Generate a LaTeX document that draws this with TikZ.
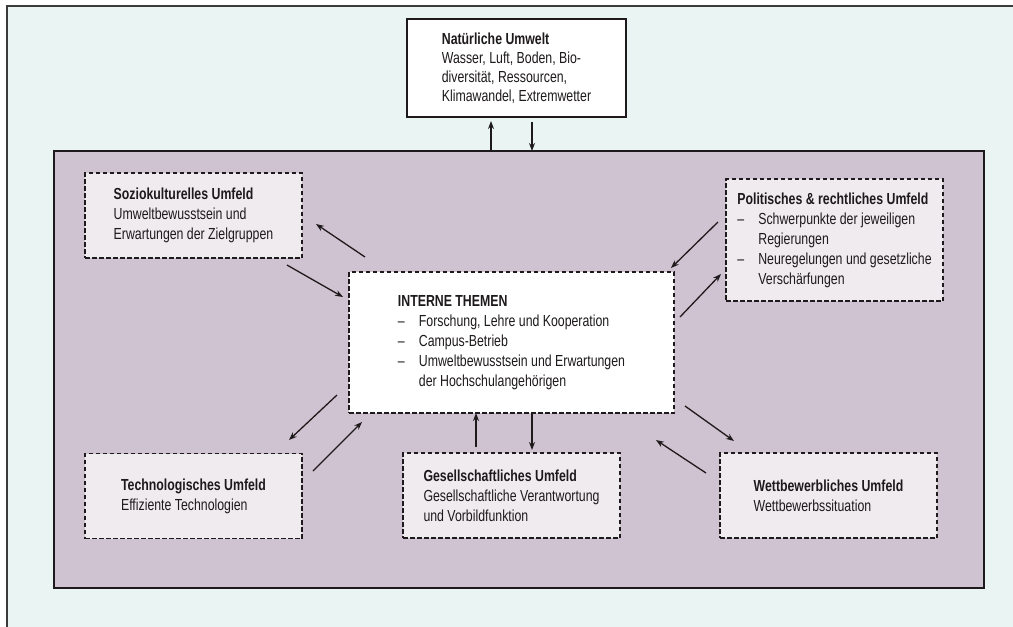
\documentclass[tikz,border=0pt]{standalone}
\usepackage{fontspec}
\setmainfont[FakeStretch=0.77]{Liberation Sans}
\usetikzlibrary{arrows.meta}
\definecolor{bgmint}{HTML}{EAF4F2}
\definecolor{framegray}{HTML}{3A3A3A}
\definecolor{envpurple}{HTML}{D0C3D1}
\definecolor{boxfill}{HTML}{EFEBEF}
\definecolor{ink}{HTML}{1E1A1B}
\newcommand{\dashitem}[1]{\hbox to 21pt{--\hfil}#1}
\newcommand{\cont}[1]{\hspace*{21pt}#1}
\tikzset{
  txt/.style={font=\fontsize{16}{20}\selectfont, text=ink, align=left, inner sep=0pt},
  envbox/.style={txt, draw=ink, fill=boxfill, line width=1.3pt, dash pattern=on 4.5pt off 2.5pt},
  internbox/.style={envbox, fill=white},
  naturbox/.style={txt, draw=ink, fill=white, line width=1.4pt, font=\fontsize{16}{19}\selectfont},
  arr/.style={draw=ink, line width=1.3pt, -{Stealth[length=8pt,width=6pt]}}
}
\begin{document}
\begin{tikzpicture}[x=1pt,y=-1pt]
\useasboundingbox (0,0) rectangle (1013,627);
\fill[white] (0,0) rectangle (1013,627);
\fill[bgmint] (7,6) rectangle (1013,627);
\draw[framegray, line width=2pt] (7,627) -- (7,6) -- (1013,6);
\draw[fill=envpurple, draw=ink, line width=1.6pt] (54,151) rectangle (984,588);

\node[naturbox, minimum width=219pt, minimum height=98pt] (natur) at (516.5,68)
  {\textbf{Natürliche Umwelt}\\Wasser, Luft, Boden, Bio-\\diversität, Ressourcen,\\Klimawandel, Extremwetter};

\node[envbox, minimum width=217pt, minimum height=85pt] (sozio) at (193.5,215.5)
  {\textbf{Soziokulturelles Umfeld}\\Umweltbewusstsein und\\Erwartungen der Zielgruppen};

\node[envbox, minimum width=217pt, minimum height=122pt] (polit) at (834.5,240)
  {\textbf{Politisches \& rechtliches Umfeld}\\\dashitem{Schwerpunkte der jeweiligen}\\\cont{Regierungen}\\\dashitem{Neuregelungen und gesetzliche}\\\cont{Verschärfungen}};

\node[internbox, minimum width=325pt, minimum height=141pt] (intern) at (511.5,342.5)
  {\textbf{INTERNE THEMEN}\\\dashitem{Forschung, Lehre und Kooperation}\\\dashitem{Campus-Betrieb}\\\dashitem{Umweltbewusstsein und Erwartungen}\\\cont{der Hochschulangehörigen}};

\node[envbox, minimum width=217pt, minimum height=85pt] (tech) at (193.5,496)
  {\textbf{Technologisches Umfeld}\\Effiziente Technologien};

\node[envbox, minimum width=217pt, minimum height=85pt] (gesell) at (511.5,495.5)
  {\textbf{Gesellschaftliches Umfeld}\\Gesellschaftliche Verantwortung\\und Vorbildfunktion};

\node[envbox, minimum width=217pt, minimum height=85pt] (wett) at (828.5,495.5)
  {\textbf{Wettbewerbliches Umfeld}\\Wettbewerbssituation};

% arrow end points
\coordinate (n1a) at (491,150); \coordinate (n1b) at (491,121);
\coordinate (n2a) at (532,122); \coordinate (n2b) at (532,151);
\coordinate (s1a) at (365,257); \coordinate (s1b) at (316,224);
\coordinate (s2a) at (287,265); \coordinate (s2b) at (343,297);
\coordinate (p1a) at (718,222); \coordinate (p1b) at (671,268);
\coordinate (p2a) at (680,317); \coordinate (p2b) at (721,274);
\coordinate (t1a) at (337,395); \coordinate (t1b) at (289,440);
\coordinate (t2a) at (313,471); \coordinate (t2b) at (362,422);
\coordinate (g1a) at (476,447); \coordinate (g1b) at (476,413);
\coordinate (g2a) at (532,413); \coordinate (g2b) at (532,450);
\coordinate (w1a) at (685,406); \coordinate (w1b) at (734,441);
\coordinate (w2a) at (706,473); \coordinate (w2b) at (656,440);

\foreach \p in {n1,n2,s1,s2,p1,p2,t1,t2,g1,g2,w1,w2}
  \draw[arr] (\p a) -- (\p b);
\end{tikzpicture}
\end{document}
